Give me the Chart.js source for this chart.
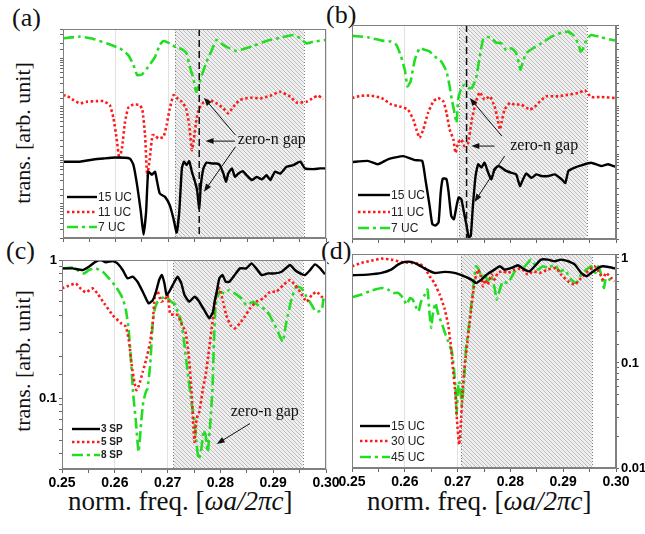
<!DOCTYPE html>
<html>
<head>
<meta charset="utf-8">
<script src="https://cdn.jsdelivr.net/npm/chart.js@4.4.1/dist/chart.umd.min.js"></script>
<style>
  body { margin: 0; background: #fff; }
  #wrap { position: relative; width: 645px; height: 534px; overflow: hidden; background: #fff; }
  canvas { position: absolute; }
  .lbl { position: absolute; font-family: 'Liberation Serif', 'Times New Roman', serif; color: #111; white-space: nowrap; line-height: 1; }
  .ytitle { transform: translate(-50%, -50%) rotate(-90deg); font-size: 22px; }
</style>
</head>
<body>
<div id="wrap">
  <div class="lbl" style="left:12px;top:5px;font-size:26px">(a)</div>
  <div class="lbl" style="left:326px;top:2px;font-size:26px">(b)</div>
  <div class="lbl" style="left:6px;top:238px;font-size:26px">(c)</div>
  <div class="lbl" style="left:321px;top:238px;font-size:26px">(d)</div>
  <div class="lbl ytitle" style="left:23px;top:133px">trans. [arb. unit]</div>
  <div class="lbl ytitle" style="left:23px;top:361px">trans. [arb. unit]</div>
  <div class="lbl" style="left:68px;top:488px;font-size:27px">norm. freq. [<i>ωa/2πc</i>]</div>
  <div class="lbl" style="left:367px;top:488px;font-size:27px">norm. freq. [<i>ωa/2πc</i>]</div>
  <canvas id="pa"></canvas>
  <canvas id="pb"></canvas>
  <canvas id="pc"></canvas>
  <canvas id="pd"></canvas>
</div>
<script>
// ---- data (x = norm. freq., y = transmission) ----

// (a) unit cells, 15 / 11 / 7 UC
const aFreq15 = [.2500,.2532,.2558,.2577,.2599,.2627,.2634,.2641,.2648,.2653,.2658,.2662,.2669,.2675,.2679,.2684,.2694,.2703,.2710,.2716,.2721,.2726,.2730,.2735,.2740,.2745,.2751,.2755,.2759,.2762,.2767,.2773,.2783,.2792,.2798,.2805,.2810,.2814,.2821,.2827,.2833,.2842,.2849,.2859,.2868,.2878,.2887,.2894,.2903,.2913,.2925,.2938,.2951,.2960,.2976,.2989,.3000];
const aTrans15 = [.0074,.0074,.0082,.0086,.009,.0086,.0063,.0024,.00069,.000235,.00069,.0046,.004,.0046,.00285,.00164,.0014,.00094,.0005,.00026,.00069,.0054,.0074,.0063,.0076,.0046,.00285,.0019,.00081,.0024,.0054,.0071,.0068,.0068,.0063,.0042,.00285,.0042,.0054,.0036,.0042,.0047,.0039,.0031,.0036,.0032,.0039,.0031,.0046,.0042,.0058,.0063,.0074,.0054,.0052,.0054,.0054];
const aFreq11 = [.2500,.2507,.2520,.2532,.2545,.2564,.2577,.2589,.2596,.2602,.2607,.2612,.2618,.2624,.2634,.2646,.2651,.2656,.2660,.2665,.2670,.2675,.2681,.2691,.2697,.2703,.2710,.2716,.2726,.2734,.2740,.2745,.2749,.2754,.2759,.2767,.2779,.2792,.2805,.2814,.2824,.2836,.2856,.2875,.2894,.2913,.2932,.2944,.2963,.2976,.2985,.2995];
const aTrans11 = [.173,.168,.137,.117,.126,.13,.13,.108,.0574,.0222,.0086,.0138,.049,.095,.111,.108,.085,.026,.0039,.0086,.026,.026,.0222,.024,.0418,.092,.173,.153,.126,.092,.0418,.0128,.0222,.0574,.092,.122,.137,.117,.092,.073,.0997,.137,.153,.148,.168,.203,.16,.122,.126,.153,.168,.143];
const aFreq7 = [.2500,.2532,.2558,.2583,.2608,.2624,.2634,.2641,.2650,.2662,.2675,.2684,.2691,.2703,.2716,.2726,.2735,.2741,.2748,.2753,.2757,.2764,.2773,.2783,.2792,.2805,.2817,.2830,.2843,.2862,.2887,.2913,.2938,.2951,.2963,.2976,.3000];
const aTrans7 = [2.54,2.75,2.46,2.0,1.58,1.15,.72,.447,.46,.66,1.06,1.85,2.24,2.0,1.63,1.53,1.25,.66,.38,.203,.257,.447,.84,1.46,2.35,1.85,1.58,1.39,1.53,1.79,2.24,2.62,2.97,2.54,2.0,2.17,2.35];

// (b) unit cells, 15 / 11 / 7 UC
const bFreq15 = [.2500,.2530,.2549,.2568,.2597,.2619,.2633,.2639,.2647,.2652,.2658,.2664,.2668,.2672,.2679,.2683,.2688,.2693,.2698,.2702,.2707,.2712,.2717,.2721,.2725,.2729,.2734,.2739,.2745,.2751,.2758,.2764,.2770,.2777,.2783,.2792,.2802,.2811,.2818,.2824,.2830,.2840,.2849,.2859,.2872,.2884,.2897,.2904,.2910,.2922,.2934,.2953,.2972,.2985,.2998];
const bTrans15 = [.0070,.0074,.0063,.0080,.0093,.0077,.0074,.0031,.00087,.00037,.00034,.0004,.00164,.0032,.0031,.00164,.00054,.00046,.00087,.0013,.0012,.00064,.00034,.000195,.00021,.00087,.0036,.0063,.0054,.0068,.0042,.0031,.005,.0058,.0054,.0046,.0042,.0039,.00225,.0031,.0041,.0033,.0039,.0036,.0036,.0039,.0031,.0026,.0046,.0054,.006,.0068,.0058,.0063,.0056];
const bFreq11 = [.2500,.2518,.2537,.2556,.2575,.2593,.2606,.2616,.2622,.2628,.2635,.2644,.2654,.2663,.2673,.2679,.2685,.2692,.2696,.2701,.2707,.2713,.2720,.2727,.2735,.2742,.2751,.2761,.2770,.2776,.2780,.2783,.2789,.2799,.2808,.2821,.2837,.2846,.2856,.2868,.2890,.2909,.2928,.2941,.2953,.2972,.2998];
const bTrans11 = [.148,.165,.165,.148,.108,.097,.085,.053,.033,.0222,.033,.073,.126,.148,.126,.073,.033,.0206,.0109,.0175,.0206,.015,.0175,.053,.126,.194,.137,.16,.0997,.053,.033,.045,.085,.117,.108,.108,.085,.097,.126,.16,.16,.173,.187,.213,.155,.155,.148];
const bFreq7 = [.2500,.2530,.2556,.2574,.2584,.2593,.2600,.2605,.2611,.2619,.2628,.2638,.2647,.2657,.2669,.2679,.2685,.2689,.2693,.2698,.2701,.2707,.2713,.2720,.2727,.2735,.2742,.2748,.2754,.2764,.2773,.2783,.2792,.2802,.2811,.2816,.2819,.2824,.2830,.2843,.2859,.2878,.2897,.2909,.2919,.2928,.2933,.2938,.2944,.2953,.2972,.2998];
const bTrans7 = [2.84,2.66,2.27,2.17,1.85,1.06,.567,.257,.326,.91,1.58,1.46,1.35,1.06,.84,.52,.257,.137,.085,.045,.137,.238,.278,.238,.238,.38,1.06,2.35,2.75,2.54,2.07,2.0,1.42,1.58,1.25,.78,.567,.84,1.25,1.58,2.0,2.75,3.32,3.48,2.97,2.0,1.35,1.58,2.35,2.97,2.66,2.27];

// (c) split-ring pairs, 3 / 5 / 8 SP
const cFreq3 = [.2500,.2520,.2539,.2551,.2564,.2574,.2583,.2596,.2605,.2615,.2624,.2634,.2643,.2653,.2664,.2672,.2678,.2684,.2689,.2694,.2698,.2703,.2713,.2719,.2726,.2732,.2741,.2751,.2760,.2773,.2779,.2786,.2789,.2793,.2798,.2804,.2810,.2817,.2827,.2837,.2849,.2859,.2868,.2878,.2890,.2903,.2916,.2932,.2941,.2951,.2960,.2970,.2979,.2989,.2998];
const cTrans3 = [.87,.87,.847,.895,.973,1.0,.962,.983,.946,.847,.737,.758,.697,.59,.486,.514,.59,.717,.779,.678,.558,.59,.697,.758,.678,.558,.50,.543,.50,.412,.379,.423,.50,.59,.737,.779,.697,.697,.779,.87,.87,.946,.87,.779,.80,.80,.823,.92,.847,.80,.779,.847,.93,.87,.788];
const cFreq5 = [.2500,.2513,.2526,.2535,.2545,.2558,.2567,.2580,.2596,.2612,.2621,.2627,.2632,.2637,.2641,.2646,.2653,.2660,.2667,.2672,.2676,.2681,.2688,.2694,.2700,.2705,.2713,.2719,.2726,.2734,.2740,.2745,.2749,.2751,.2755,.2760,.2767,.2772,.2778,.2785,.2792,.2798,.2805,.2811,.2819,.2827,.2837,.2846,.2856,.2868,.2881,.2894,.2906,.2919,.2932,.2941,.2951,.2963,.2973,.2982,.2992,.2998];
const cTrans5 = [.624,.652,.678,.624,.584,.624,.574,.486,.40,.349,.33,.257,.174,.132,.115,.125,.156,.195,.257,.358,.558,.597,.50,.514,.558,.405,.405,.40,.349,.303,.206,.118,.0607,.0486,.0717,.08,.118,.147,.218,.358,.558,.624,.50,.40,.339,.321,.349,.389,.447,.50,.528,.59,.59,.66,.717,.66,.59,.50,.558,.59,.543,.514];
const cFreq8 = [.2500,.2520,.2532,.2542,.2551,.2564,.2577,.2589,.2602,.2615,.2621,.2626,.2630,.2635,.2640,.2645,.2650,.2654,.2659,.2662,.2667,.2672,.2676,.2681,.2688,.2697,.2707,.2715,.2719,.2726,.2732,.2738,.2745,.2751,.2755,.2759,.2764,.2768,.2772,.2776,.2781,.2785,.2788,.2791,.2798,.2808,.2817,.2827,.2840,.2849,.2862,.2875,.2887,.2900,.2909,.2918,.2925,.2935,.2944,.2954,.2963,.2973,.2981,.2992,.2995];
const cTrans8 = [.87,.88,.833,.80,.847,.87,.823,.737,.642,.528,.435,.321,.206,.106,.0678,.0412,.0678,.0946,.112,.118,.174,.358,.447,.50,.528,.543,.50,.473,.423,.358,.243,.156,.0946,.0678,.046,.0364,.0435,.059,.0543,.0412,.0678,.118,.272,.473,.59,.574,.607,.574,.528,.473,.50,.46,.435,.358,.303,.257,.358,.528,.642,.624,.543,.473,.423,.435,.528];

// (d) unit cells, 15 / 30 / 45 UC
const dFreq15 = [.2500,.2530,.2556,.2574,.2587,.2600,.2612,.2625,.2638,.2656,.2675,.2694,.2713,.2726,.2735,.2745,.2757,.2770,.2780,.2789,.2802,.2814,.2827,.2836,.2846,.2858,.2871,.2884,.2896,.2909,.2922,.2934,.2944,.2953,.2966,.2975,.2988,.3000];
const dTrans15 = [.684,.694,.72,.774,.864,.916,.916,.864,.791,.72,.736,.72,.669,.622,.578,.622,.705,.774,.833,.774,.803,.851,.774,.746,.833,.964,.964,.93,.964,.93,.864,.72,.669,.72,.803,.833,.815,.791];
const dFreq30 = [.2500,.2518,.2537,.2556,.2574,.2593,.2612,.2628,.2638,.2647,.2656,.2666,.2675,.2682,.2687,.2691,.2696,.2699,.2703,.2706,.2709,.2713,.2718,.2723,.2729,.2733,.2739,.2744,.2748,.2752,.2757,.2764,.2770,.2776,.2786,.2795,.2808,.2821,.2833,.2843,.2855,.2871,.2887,.2896,.2909,.2922,.2934,.2947,.2959,.2969,.2975,.2981,.2991,.2997];
const dTrans30 = [.833,.896,.943,.985,.964,.916,.896,.877,.803,.669,.578,.448,.334,.232,.15,.0895,.0499,.0278,.0167,.0259,.0499,.0895,.15,.249,.448,.622,.774,.669,.537,.622,.557,.694,.622,.72,.746,.72,.774,.791,.694,.746,.72,.774,.803,.694,.60,.557,.645,.746,.833,.72,.622,.72,.645,.60];
const dFreq45 = [.2500,.2518,.2537,.2556,.2568,.2578,.2587,.2597,.2603,.2610,.2615,.2622,.2626,.2631,.2638,.2643,.2647,.2650,.2653,.2658,.2662,.2666,.2671,.2675,.2682,.2689,.2693,.2696,.2698,.2701,.2703,.2706,.2708,.2712,.2716,.2721,.2726,.2731,.2735,.2740,.2745,.2751,.2757,.2764,.2770,.2774,.2780,.2786,.2795,.2805,.2814,.2824,.2833,.2839,.2846,.2852,.2862,.2871,.2884,.2893,.2903,.2909,.2915,.2925,.2934,.2944,.2953,.2961,.2966,.2972,.2977,.2981,.2988,.2994];
const dTrans45 = [.422,.448,.489,.518,.50,.464,.464,.416,.36,.416,.401,.334,.31,.387,.448,.50,.289,.216,.289,.373,.31,.268,.232,.20,.161,.129,.0895,.0578,.0322,.0578,.0669,.0499,.0401,.0669,.139,.216,.36,.60,.833,.774,.645,.72,.60,.669,.518,.401,.50,.60,.578,.694,.833,.803,.896,.964,.864,.774,.833,.803,.864,.746,.774,.694,.622,.578,.694,.774,.833,.72,.833,.694,.518,.645,.622,.578];

// zero-n gap bands and marker lines (freq)
const gapA = [0.2713, 0.2958];
const gapB = [0.2703, 0.2945];
const gapC = [0.2711, 0.2956];
const gapD = [0.2706, 0.2955];
const dashA = 0.2759;
const dashB = 0.2717;

const FREQ_MIN = 0.25, FREQ_MAX = 0.30;

// ---------------------------------------------------------------------

const SANS = '"Liberation Sans", Arial, sans-serif';
const SERIF = '"Liberation Serif", "Times New Roman", serif';

const lineBlack = { borderColor: '#000', borderWidth: 2.4, borderDash: [] };
const lineRed = { borderColor: '#ff1a1a', borderWidth: 2.6, borderDash: [2.5, 2.5] };
const lineGreen = { borderColor: '#22dd22', borderWidth: 2.6, borderDash: [11, 4, 3, 4] };

function pts(f, t) {
  return f.map((x, i) => ({ x: x, y: t[i] }));
}

function makeHatch(ctx) {
  const c = document.createElement('canvas');
  c.width = 4; c.height = 4;
  const g = c.getContext('2d');
  g.fillStyle = '#efefef';
  g.fillRect(0, 0, 4, 4);
  g.strokeStyle = '#bcbcbc';
  g.lineWidth = 1;
  g.beginPath();
  g.moveTo(-1, -1); g.lineTo(5, 5);
  g.moveTo(-1, 3); g.lineTo(1, 5);
  g.moveTo(3, -1); g.lineTo(5, 1);
  g.stroke();
  return ctx.createPattern(c, 'repeat');
}

function arrow(ctx, x1, y1, x2, y2) {
  const ang = Math.atan2(y2 - y1, x2 - x1), L = 8, W = 3;
  const c = Math.cos(ang), s = Math.sin(ang);
  ctx.strokeStyle = '#111';
  ctx.fillStyle = '#111';
  ctx.lineWidth = 1;
  ctx.setLineDash([]);
  ctx.beginPath();
  ctx.moveTo(x1, y1);
  ctx.lineTo(x2 - L * c * 0.7, y2 - L * s * 0.7);
  ctx.stroke();
  ctx.beginPath();
  ctx.moveTo(x2, y2);
  ctx.lineTo(x2 - L * c + W * s, y2 - L * s - W * c);
  ctx.lineTo(x2 - L * c - W * s, y2 - L * s + W * c);
  ctx.closePath();
  ctx.fill();
}

// shaded gap, dashed marker, notes, legend, frame
const decor = {
  id: 'decor',
  beforeDatasetsDraw(chart, args, o) {
    const { ctx, chartArea: a, scales } = chart;
    const x1 = scales.x.getPixelForValue(o.gap[0]);
    const x2 = scales.x.getPixelForValue(o.gap[1]);
    ctx.save();
    ctx.fillStyle = makeHatch(ctx);
    ctx.fillRect(x1, a.top, x2 - x1, a.bottom - a.top);
    ctx.strokeStyle = '#808080';
    ctx.lineWidth = 1;
    ctx.setLineDash([1, 2]);
    [x1, x2].forEach(px => {
      ctx.beginPath();
      ctx.moveTo(Math.round(px) + 0.5, a.top);
      ctx.lineTo(Math.round(px) + 0.5, a.bottom);
      ctx.stroke();
    });
    ctx.restore();
  },
  afterDatasetsDraw(chart, args, o) {
    const { ctx, chartArea: a, scales: { x, y } } = chart;
    ctx.save();
    if (o.dash) {
      const px = x.getPixelForValue(o.dash);
      ctx.strokeStyle = '#111';
      ctx.lineWidth = 1.5;
      ctx.setLineDash([7, 4]);
      ctx.beginPath();
      ctx.moveTo(px, a.top);
      ctx.lineTo(px, a.bottom);
      ctx.stroke();
    }
    (o.arrows || []).forEach(r => arrow(ctx,
      x.getPixelForValue(r[0]), y.getPixelForValue(r[1]),
      x.getPixelForValue(r[2]), y.getPixelForValue(r[3])));
    if (o.note) {
      ctx.font = '16px ' + SERIF;
      ctx.fillStyle = '#111';
      ctx.textAlign = 'center';
      ctx.textBaseline = 'middle';
      ctx.fillText('zero-n gap', x.getPixelForValue(o.note[0]), y.getPixelForValue(o.note[1]));
    }
    const lg = o.legend;
    ctx.font = lg.font;
    ctx.textAlign = 'left';
    ctx.textBaseline = 'middle';
    chart.data.datasets.forEach((ds, i) => {
      const yy = a.bottom - lg.rows[i];
      ctx.strokeStyle = ds.borderColor;
      ctx.lineWidth = ds.borderWidth;
      ctx.setLineDash(ds.borderDash || []);
      ctx.beginPath();
      ctx.moveTo(a.left + lg.x0, yy);
      ctx.lineTo(a.left + lg.x1, yy);
      ctx.stroke();
      ctx.fillStyle = '#222';
      ctx.fillText(ds.label, a.left + lg.x1 + 1, yy + 0.5);
    });
    ctx.setLineDash([]);
    ctx.strokeStyle = '#808080';
    ctx.lineWidth = 1;
    ctx.strokeRect(Math.round(a.left) + 0.5, Math.round(a.top) + 0.5,
      Math.round(a.right - a.left) - 1, Math.round(a.bottom - a.top) - 1);
    ctx.restore();
  }
};

function isDecade(v) {
  const l = Math.log10(v);
  return Math.abs(l - Math.round(l)) < 1e-6;
}

function isMajorFreq(v) {
  return Math.abs(v * 100 - Math.round(v * 100)) < 1e-6;
}

function makePanel(id, p) {
  const cv = document.getElementById(id);
  cv.width = p.box[2];
  cv.height = p.box[3];
  cv.style.left = p.box[0] + 'px';
  cv.style.top = p.box[1] + 'px';
  cv.style.width = p.box[2] + 'px';
  cv.style.height = p.box[3] + 'px';

  return new Chart(cv, {
    type: 'line',
    data: {
      datasets: p.series.map(s => Object.assign({
        label: s.label,
        data: pts(s.f, s.t),
        pointRadius: 0,
        tension: 0.15,
        fill: false
      }, s.style))
    },
    options: {
      responsive: false,
      animation: false,
      devicePixelRatio: 1,
      layout: { padding: p.pad },
      plugins: {
        legend: { display: false },
        tooltip: { enabled: false },
        decor: p.decor
      },
      scales: {
        x: {
          type: 'linear',
          min: FREQ_MIN,
          max: FREQ_MAX,
          afterFit: s => { s.height = p.xH; },
          border: { color: '#808080' },
          grid: {
            color: c => (c.tick && isMajorFreq(c.tick.value) ? '#e2e2e2' : 'rgba(0,0,0,0)'),
            tickColor: '#666',
            tickLength: 4
          },
          ticks: {
            display: p.xLabels,
            stepSize: 0.005,
            autoSkip: false,
            maxRotation: 0,
            padding: 2,
            color: '#000',
            font: { family: SANS, size: 14, weight: 'bold' },
            callback: v => (isMajorFreq(v) ? v.toFixed(2) : '')
          }
        },
        y: {
          type: 'logarithmic',
          position: p.yPos,
          min: p.yMin,
          max: p.yMax,
          afterFit: s => { s.width = p.yW; },
          border: { color: '#808080' },
          grid: { drawOnChartArea: false, tickColor: '#666', tickLength: 3 },
          ticks: {
            display: p.yLabels,
            autoSkip: false,
            padding: 2,
            color: '#000',
            font: { family: SANS, size: 13, weight: 'bold' },
            callback: v => (isDecade(v) ? (v >= 1 ? '1' : v.toFixed(Math.round(-Math.log10(v)))) : '')
          }
        }
      }
    },
    plugins: [decor]
  });
}

makePanel('pa', {
  box: [23, 14, 318, 234], pad: { top: 15, right: 15, left: 0, bottom: 0 },
  xH: 10, yW: 40, yPos: 'left', xLabels: false, yLabels: false,
  yMin: 2.0e-4, yMax: 3.95,
  series: [
    { label: '15 UC', f: aFreq15, t: aTrans15, style: lineBlack },
    { label: '11 UC', f: aFreq11, t: aTrans11, style: lineRed },
    { label: '7 UC', f: aFreq7, t: aTrans7, style: lineGreen }
  ],
  decor: {
    gap: gapA, dash: dashA,
    note: [0.2897, 0.0206],
    arrows: [[0.2827, 0.0196, 0.2771, 0.0196], [0.2828, 0.026, 0.2768, 0.152], [0.2828, 0.015, 0.2768, 0.00178]],
    legend: { x0: 4, x1: 34, rows: [41, 26, 11], font: '12px ' + SANS }
  }
});

makePanel('pb', {
  box: [337, 10, 299, 239], pad: { top: 15, right: 0, left: 15, bottom: 0 },
  xH: 10, yW: 20, yPos: 'right', xLabels: false, yLabels: false,
  yMin: 1.8e-4, yMax: 4.77,
  series: [
    { label: '15 UC', f: bFreq15, t: bTrans15, style: lineBlack },
    { label: '11 UC', f: bFreq11, t: bTrans11, style: lineRed },
    { label: '7 UC', f: bFreq7, t: bTrans7, style: lineGreen }
  ],
  decor: {
    gap: gapB, dash: dashB,
    note: [0.2864, 0.015],
    arrows: [[0.2770, 0.015, 0.2726, 0.015], [0.2784, 0.024, 0.2723, 0.148], [0.2789, 0.0093, 0.2732, 0.00105]],
    legend: { x0: 6, x1: 38, rows: [44, 27, 11], font: '12px ' + SANS }
  }
});

makePanel('pc', {
  box: [22, 245, 324, 254], pad: { top: 15, right: 20, left: 0, bottom: 0 },
  xH: 30, yW: 40, yPos: 'left', xLabels: true, yLabels: true,
  yMin: 0.031, yMax: 1.0,
  series: [
    { label: '3 SP', f: cFreq3, t: cTrans3, style: lineBlack },
    { label: '5 SP', f: cFreq5, t: cTrans5, style: lineRed },
    { label: '8 SP', f: cFreq8, t: cTrans8, style: lineGreen }
  ],
  decor: {
    gap: gapC,
    note: [0.2884, 0.080],
    arrows: [[0.2856, 0.066, 0.2793, 0.047]],
    legend: { x0: 10, x1: 38, rows: [40, 27, 14], font: 'bold 10px ' + SANS }
  }
});

makePanel('pd', {
  box: [332, 239, 313, 259], pad: { top: 15, right: 0, left: 20, bottom: 0 },
  xH: 30, yW: 29, yPos: 'right', xLabels: true, yLabels: true,
  yMin: 0.01, yMax: 1.09,
  series: [
    { label: '15 UC', f: dFreq15, t: dTrans15, style: lineBlack },
    { label: '30 UC', f: dFreq30, t: dTrans30, style: lineRed },
    { label: '45 UC', f: dFreq45, t: dTrans45, style: lineGreen }
  ],
  decor: {
    gap: gapD,
    legend: { x0: 8, x1: 38, rows: [42, 27, 11], font: '12px ' + SANS }
  }
});
</script>
</body>
</html>
